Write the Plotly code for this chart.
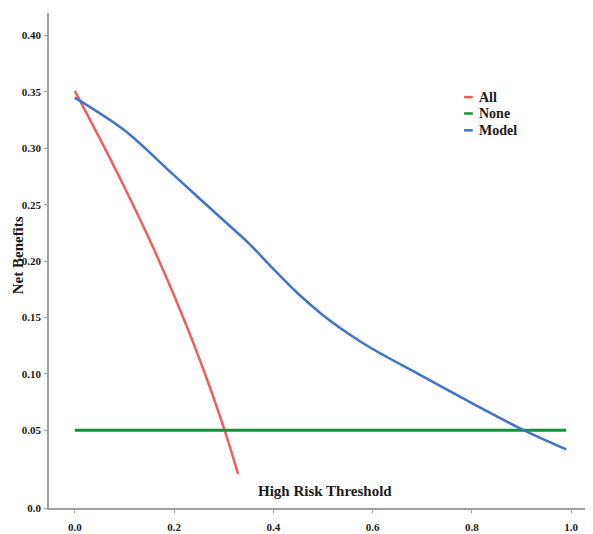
import plotly.graph_objects as go

# Data
all_x = [0.0, 0.05, 0.10, 0.15, 0.20, 0.25, 0.30, 0.329]
all_y = [0.351, 0.309, 0.2655, 0.2195, 0.1695, 0.1145, 0.0525, 0.011]

none_x = [0.0, 0.99]
none_y = [0.05, 0.05]

model_x = [0.0, 0.1, 0.2, 0.3, 0.35, 0.4, 0.45, 0.5, 0.55, 0.6, 0.7, 0.8, 0.9, 0.99]
model_y = [0.345, 0.316, 0.276, 0.236, 0.216, 0.193, 0.171, 0.152, 0.136, 0.122, 0.098, 0.074, 0.051, 0.033]

series_names = ["All", "None", "Model"]
series_colors = ["#EE5F5F", "#15913A", "#3F74C8"]

x_tickvals = [0.0, 0.2, 0.4, 0.6, 0.8, 1.0]
x_ticktext = ["0.0", "0.2", "0.4", "0.6", "0.8", "1.0"]
y_tickvals = [-0.019, 0.05, 0.10, 0.15, 0.20, 0.25, 0.30, 0.35, 0.40]
y_ticktext = ["0.0", "0.05", "0.10", "0.15", "0.20", "0.25", "0.30", "0.35", "0.40"]

FONT = "Liberation Serif"
TXT = "#1a1a1a"

fig = go.Figure()
fig.add_trace(go.Scatter(x=all_x, y=all_y, mode="lines", name=series_names[0],
                         line=dict(color=series_colors[0], width=2.5, shape="spline", smoothing=0.8)))
fig.add_trace(go.Scatter(x=none_x, y=none_y, mode="lines", name=series_names[1],
                         line=dict(color=series_colors[1], width=3)))
fig.add_trace(go.Scatter(x=model_x, y=model_y, mode="lines", name=series_names[2],
                         line=dict(color=series_colors[2], width=2.5, shape="spline", smoothing=0.9)))

axis_common = dict(showgrid=False, zeroline=False, showline=True, linecolor="#A0A0A0",
                   linewidth=1.5, ticks="outside", ticklen=3, tickcolor="#A0A0A0",
                   automargin=False,
                   tickfont=dict(family=FONT, size=11, color=TXT))

# custom compact legend (short dashes like the reference)
legend_y = [0.830, 0.797, 0.763]
shapes = []
annotations = []
for name, col, ly in zip(series_names, series_colors, legend_y):
    shapes.append(dict(type="line", xref="paper", yref="paper", x0=0.763, x1=0.779,
                       y0=ly, y1=ly, line=dict(color=col, width=2.5)))
    annotations.append(dict(text="<b>%s</b>" % name, xref="paper", yref="paper",
                            x=0.786, y=ly, xanchor="left", yanchor="middle", showarrow=False,
                            font=dict(family=FONT, size=14, color=TXT)))

annotations.append(dict(text="<b>High Risk Threshold</b>", x=0.504, y=-0.004, xref="x", yref="y",
                        showarrow=False, xanchor="center", yanchor="middle",
                        font=dict(family=FONT, size=15, color=TXT)))
annotations.append(dict(text="<b>Net Benefits</b>", x=-0.0575, y=0.51, xref="paper", yref="paper",
                        showarrow=False, textangle=-90, xanchor="center", yanchor="middle",
                        font=dict(family=FONT, size=15, color=TXT)))

fig.update_layout(
    width=585, height=526,
    margin=dict(l=41, r=0, t=5, b=26, autoexpand=False),
    paper_bgcolor="white", plot_bgcolor="white",
    font=dict(family=FONT),
    xaxis=dict(range=[-0.052, 1.044], tickvals=x_tickvals,
               ticktext=["<b>%s</b>" % t for t in x_ticktext],
               ticklabelstandoff=5, **axis_common),
    yaxis=dict(range=[-0.019, 0.42], tickvals=y_tickvals,
               ticktext=["<b>%s</b>" % t for t in y_ticktext],
               ticklabelstandoff=1, **axis_common),
    showlegend=False,
    shapes=shapes,
    annotations=annotations,
)

fig.write_html("out.html")
